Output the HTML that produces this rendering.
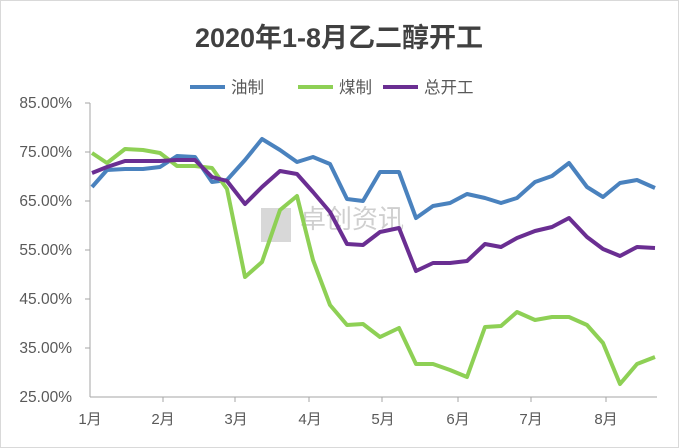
<!DOCTYPE html><html><head><meta charset="utf-8"><style>body{margin:0;background:#fff}svg{display:block}</style></head><body>
<svg width="679" height="448" xmlns="http://www.w3.org/2000/svg" font-family="Liberation Sans, Noto Sans CJK SC, sans-serif">
<rect x="0.5" y="0.5" width="678" height="447" fill="#fff" stroke="#d9d9d9"/>
<text x="339" y="47" text-anchor="middle" font-size="27" font-weight="bold" fill="#404040">2020年1-8月乙二醇开工</text>
<g font-size="16.5" fill="#595959">
<line x1="190" y1="87" x2="225" y2="87" stroke="#4a82be" stroke-width="4"/><text x="231" y="93">油制</text>
<line x1="298" y1="87" x2="333" y2="87" stroke="#8ed055" stroke-width="4"/><text x="339" y="93">煤制</text>
<line x1="383" y1="87" x2="418" y2="87" stroke="#6a2e92" stroke-width="4"/><text x="424" y="93">总开工</text>
</g>
<g font-size="15.5" fill="#595959" text-anchor="end">
<text x="72" y="108">85.00%</text><text x="72" y="157">75.00%</text><text x="72" y="206">65.00%</text><text x="72" y="255">55.00%</text><text x="72" y="304">45.00%</text><text x="72" y="353">35.00%</text><text x="72" y="402">25.00%</text>
</g>
<g stroke="#a6a6a6" stroke-width="1">
<line x1="90" y1="103" x2="90" y2="397"/><line x1="90" y1="397" x2="657" y2="397"/>
<line x1="85" y1="103" x2="90" y2="103"/><line x1="85" y1="152" x2="90" y2="152"/><line x1="85" y1="201" x2="90" y2="201"/><line x1="85" y1="250" x2="90" y2="250"/><line x1="85" y1="299" x2="90" y2="299"/><line x1="85" y1="348" x2="90" y2="348"/>
<line x1="163" y1="397" x2="163" y2="402"/><line x1="235" y1="397" x2="235" y2="402"/><line x1="309" y1="397" x2="309" y2="402"/><line x1="382" y1="397" x2="382" y2="402"/><line x1="458" y1="397" x2="458" y2="402"/><line x1="531" y1="397" x2="531" y2="402"/><line x1="606" y1="397" x2="606" y2="402"/>
</g>
<g font-size="15" fill="#595959" text-anchor="middle">
<text x="90" y="424">1月</text><text x="163" y="424">2月</text><text x="236" y="424">3月</text><text x="310" y="424">4月</text><text x="383" y="424">5月</text><text x="458" y="424">6月</text><text x="531" y="424">7月</text><text x="606" y="424">8月</text>
</g>
<rect x="261" y="208" width="30" height="34" fill="#d8d8d8"/>
<text x="300" y="228" font-size="26" fill="#cfcfcf">卓创资讯</text>
<g fill="none" stroke-width="4" stroke-linejoin="round">
<polyline stroke="#4a82be" points="92,187 107,170 125,169 143,169 160,167 177,156 195,157 212,182 227,180 245,160 262,139 280,150 297,162 313,157 330,164 347,199 363,201 380,172 399,172 416,218 433,206 450,203 467,194 485,198 501,203 517,198 535,182 552,176 569,163 587,187 603,197 620,183 637,180 655,188"/>
<polyline stroke="#8ed055" points="92,153 107,163 125,149 143,150 160,153 177,166 195,166 212,168 227,189 245,277 262,262 280,210 297,196 313,260 330,305 347,325 363,324 380,337 399,328 416,364 433,364 450,370 467,377 485,327 501,326 517,312 535,320 552,317 569,317 587,325 603,343 620,384 637,364 655,357"/>
<polyline stroke="#6a2e92" points="92,173 107,167 125,161 143,161 160,161 177,160 195,160 212,177 227,181 245,204 262,187 280,171 297,174 313,192 330,212 347,244 363,245 380,232 399,228 416,271 433,263 450,263 467,261 485,244 501,247 517,238 535,231 552,227 569,218 587,237 603,249 620,256 637,247 655,248"/>
</g>
</svg></body></html>
